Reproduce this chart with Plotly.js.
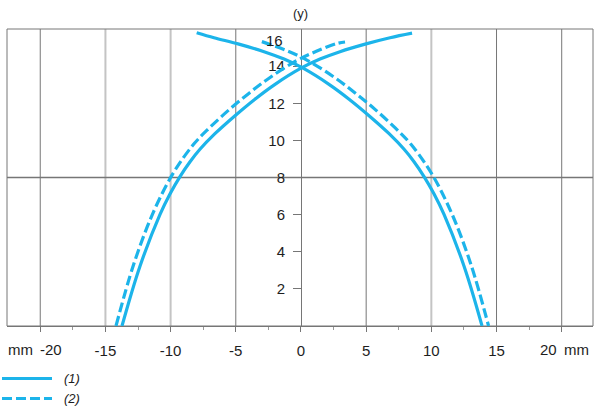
<!DOCTYPE html>
<html>
<head>
<meta charset="utf-8">
<script src="https://cdn.plot.ly/plotly-3.0.1.min.js"></script>
<style>html,body{margin:0;padding:0;background:#fff;}</style>
</head>
<body>
<div id="chart" style="width:600px;height:413px"></div>
<script>
// ---- data ----
// (1) solid: rising arc
const xRise1 = [-13.73, -12.35, -10.82, -10.05, -9.28, -8.51, -7.75, -6.6, -5.06, -3.53, -1.99, 0, 1.46, 2.99, 4.99, 6.83, 8.52];
const yRise1 = [0, 3.22, 6.0, 7.11, 8.05, 8.85, 9.52, 10.36, 11.33, 12.22, 13.02, 13.89, 14.38, 14.78, 15.2, 15.53, 15.78];
// (1) solid: falling arc
const xFall1 = [-8.0, -6.67, -4.83, -2.83, -1.3, 0.16, 2.15, 3.69, 5.22, 6.76, 7.91, 8.67, 9.44, 10.21, 10.98, 12.51, 13.89];
const yFall1 = [15.8, 15.53, 15.2, 14.78, 14.38, 13.89, 13.02, 12.22, 11.33, 10.36, 9.52, 8.85, 8.05, 7.11, 6.0, 3.22, 0];
// (2) dashed: rising arc
const xRise2 = [-14.19, -12.83, -11.31, -9.77, -8.22, -7.03, -5.48, -3.93, -2.37, -0.32, 1.18, 2.77, 3.38];
const yRise2 = [0, 3.33, 6.15, 8.27, 9.8, 10.67, 11.67, 12.57, 13.39, 14.3, 14.8, 15.22, 15.3];
// (2) dashed: falling arc
const xFall2 = [-3.0, -0.98, 0.52, 2.57, 4.13, 5.68, 7.23, 8.42, 9.97, 11.51, 13.03, 14.39];
const yFall2 = [15.32, 14.8, 14.3, 13.39, 12.57, 11.67, 10.67, 9.8, 8.27, 6.15, 3.33, 0];

const xTickVals = [-20, -15, -10, -5, 0, 5, 10, 15, 20];
const xTickLabels = ['-20', '-15', '-10', '-5', '0', '5', '10', '15', '20'];
const xUnit = 'mm';
const yTickVals = [2, 4, 6, 8, 10, 12, 14, 16];
const yTickLabels = ['2', '4', '6', '8', '10', '12', '14', '16'];
const yTitle = '(y)';
const seriesNames = ['(1)', '(2)'];
const darkGrid = [-20, -5, 5, 15, 20];
const lightGrid = [-15, -10, 10];
const midLine = 8;

// ---- styling ----
const BLUE = '#1cb4ea';
const DARK = '#767676';
const LIGHT = '#c4c4c4';
const TXT = '#1e1e1e';
const FONT = 'Liberation Sans, Arial, sans-serif';
const xRange = [-22.55, 22.4];
const yRange = [0, 16];
const yPos = (0 - xRange[0]) / (xRange[1] - xRange[0]);

const solid = {color: BLUE, width: 3.2, shape: 'spline', smoothing: 1};
const dashed = {color: BLUE, width: 3.2, dash: '10px,4px', shape: 'spline', smoothing: 1};

const traces = [
  {x: xRise1, y: yRise1, mode: 'lines', line: solid, name: seriesNames[0], hoverinfo: 'skip'},
  {x: xFall1, y: yFall1, mode: 'lines', line: solid, name: seriesNames[0], hoverinfo: 'skip'},
  {x: xRise2, y: yRise2, mode: 'lines', line: dashed, name: seriesNames[1], hoverinfo: 'skip'},
  {x: xFall2, y: yFall2, mode: 'lines', line: dashed, name: seriesNames[1], hoverinfo: 'skip'}
];

const shapes = [];
lightGrid.forEach(v => shapes.push({type: 'line', xref: 'x', yref: 'paper', x0: v, x1: v, y0: 0, y1: 1, layer: 'below', line: {color: LIGHT, width: 2}}));
darkGrid.forEach(v => shapes.push({type: 'line', xref: 'x', yref: 'paper', x0: v, x1: v, y0: 0, y1: 1, layer: 'below', line: {color: DARK, width: 1}}));
shapes.push({type: 'line', xref: 'paper', yref: 'y', x0: 0, x1: 1, y0: midLine, y1: midLine, layer: 'below', line: {color: DARK, width: 1.5}});
shapes.push({type: 'rect', xref: 'paper', yref: 'paper', x0: 0, x1: 1, y0: 0, y1: 1, layer: 'below', line: {color: DARK, width: 1}});
// legend keys
const W = 586, H = 297;
const px2x = p => (p - 7) / W;
const py2y = p => (326.5 - p) / H;
shapes.push({type: 'line', xref: 'paper', yref: 'paper', x0: px2x(2), x1: px2x(52), y0: py2y(379), y1: py2y(379), line: {color: BLUE, width: 3}});
shapes.push({type: 'line', xref: 'paper', yref: 'paper', x0: px2x(2), x1: px2x(52), y0: py2y(399), y1: py2y(399), line: {color: BLUE, width: 3, dash: '10px,4px'}});

const lblFont = {family: FONT, size: 15, color: TXT};
const annotations = [
  {xref: 'x', yref: 'paper', x: 0, y: 1, yshift: 16, text: yTitle, showarrow: false, xanchor: 'center', yanchor: 'middle', font: {family: FONT, size: 13, color: TXT}},
  {xref: 'x', yref: 'y', x: 0, y: yTickVals[yTickVals.length - 1], xshift: -16, yshift: -11, text: yTickLabels[yTickLabels.length - 1], showarrow: false, xanchor: 'right', yanchor: 'middle', font: lblFont},
  {xref: 'paper', yref: 'y', x: 0, y: 0, yshift: -23, xshift: -1, text: xUnit, showarrow: false, xanchor: 'left', yanchor: 'middle', font: lblFont},
  {xref: 'x', yref: 'y', x: xTickVals[0], y: 0, xshift: -2, yshift: -23, text: xTickLabels[0], showarrow: false, xanchor: 'left', yanchor: 'middle', font: lblFont},
  {xref: 'x', yref: 'y', x: xTickVals[xTickVals.length - 1], y: 0, xshift: -3, yshift: -23, text: xTickLabels[xTickLabels.length - 1], showarrow: false, xanchor: 'right', yanchor: 'middle', font: lblFont},
  {xref: 'x', yref: 'y', x: xTickVals[xTickVals.length - 1], y: 0, xshift: 0, yshift: -23, text: xUnit, showarrow: false, xanchor: 'left', yanchor: 'middle', font: lblFont},
  {xref: 'paper', yref: 'paper', x: px2x(62), y: py2y(379), text: '<i>' + seriesNames[0] + '</i>', showarrow: false, xanchor: 'left', yanchor: 'middle', font: {family: FONT, size: 13, color: TXT}},
  {xref: 'paper', yref: 'paper', x: px2x(62), y: py2y(399), text: '<i>' + seriesNames[1] + '</i>', showarrow: false, xanchor: 'left', yanchor: 'middle', font: {family: FONT, size: 13, color: TXT}}
];

const xMinor = xTickVals.slice(0, -1).map((v, i) => (v + xTickVals[i + 1]) / 2);
const xText = xTickLabels.map((t, i) => (i === 0 || i === xTickLabels.length - 1) ? '' : t);
const yAxisVals = yTickVals.slice(0, -1);
const yAxisText = yTickLabels.slice(0, -1);

const layout = {
  width: 600, height: 413,
  margin: {l: 7, r: 7, t: 29, b: 87, pad: 0},
  paper_bgcolor: '#fff', plot_bgcolor: '#fff',
  showlegend: false,
  font: {family: FONT, size: 14, color: TXT},
  xaxis: {
    range: xRange, showgrid: false, zeroline: false,
    showline: true, linecolor: DARK, linewidth: 1,
    ticks: 'outside', ticklen: 5, tickcolor: DARK, tickwidth: 1,
    tickmode: 'array', tickvals: xTickVals, ticktext: xText,
    minor: {tickmode: 'array', tickvals: xMinor, ticks: 'outside', ticklen: 3, tickcolor: '#999', showgrid: false},
    tickfont: lblFont, ticklabelstandoff: 6, fixedrange: true
  },
  yaxis: {
    range: yRange, anchor: 'free', position: yPos,
    showgrid: false, zeroline: false, showline: true, linecolor: DARK, linewidth: 1,
    ticks: 'outside', ticklen: 8, tickcolor: DARK,
    tickmode: 'array', tickvals: yAxisVals, ticktext: yAxisText,
    tickfont: lblFont, ticklabelstandoff: 5, layer: 'below traces', fixedrange: true
  },
  yaxis2: {
    range: yRange, overlaying: 'y', anchor: 'free', position: yPos, side: 'right',
    showgrid: false, zeroline: false, showline: false,
    ticks: 'outside', ticklen: 8, tickcolor: DARK,
    tickmode: 'array', tickvals: yAxisVals, showticklabels: false, layer: 'below traces', fixedrange: true
  },
  shapes: shapes,
  annotations: annotations
};

Plotly.newPlot('chart', traces, layout, {displayModeBar: false, staticPlot: true});
</script>
</body>
</html>
